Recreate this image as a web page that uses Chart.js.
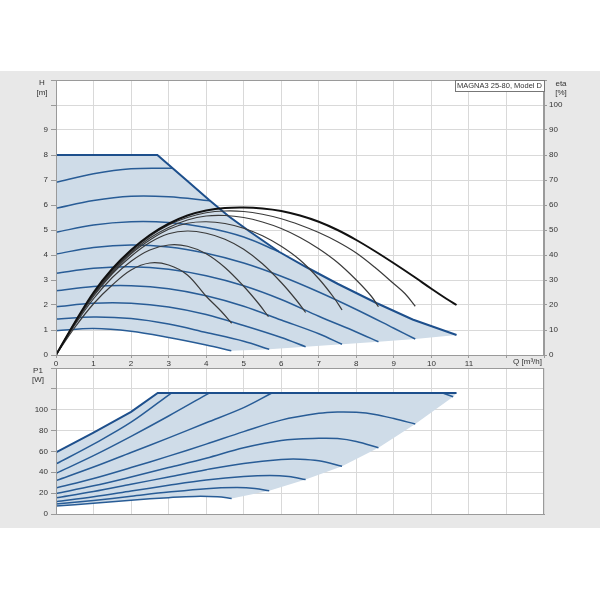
<!DOCTYPE html>
<html>
<head>
<meta charset="utf-8">
<script src="https://cdn.jsdelivr.net/npm/chart.js@4.4.0/dist/chart.umd.min.js"></script>
<style>
  html, body { margin: 0; padding: 0; background: #fff; }
  #band { position: absolute; left: 0; top: 71px; width: 600px; height: 457px; background: #e8e8e8; }
  #topChart { position: absolute; left: 0; top: 70px; }
  #bottomChart { position: absolute; left: 0; top: 358px; }
</style>
</head>
<body>
<div id="band"></div>
<canvas id="topChart" width="600" height="300"></canvas>
<canvas id="bottomChart" width="600" height="172"></canvas>
<script>
// Q [m3/h], H [m] speed curves (lowest to highest) and max curve
let hMax = [[0,8],[2.7,8],[3.5,6.96],[4.08,6.2],[4.6,5.55],[5.15,4.95],[5.94,4.13],[6.65,3.53],[7.5,2.85],[8.55,2.07],[9.5,1.42],[10.67,0.8]];
let h1 = [[0,0.97],[1,1.06],[2,0.95],[3,0.7],[4,0.4],[4.67,0.17]];
let h2 = [[0,1.44],[1,1.52],[2,1.46],[3,1.24],[4,0.9],[5,0.55],[5.68,0.23]];
let h3 = [[0,1.93],[1,2.07],[2,2.07],[3,1.92],[4,1.62],[5,1.18],[6,0.7],[6.65,0.33]];
let h4 = [[0,2.57],[1,2.74],[2,2.77],[3,2.65],[4,2.37],[5,1.95],[6,1.4],[7,0.85],[7.62,0.43]];
let h5 = [[0,3.27],[1,3.47],[2,3.53],[3,3.43],[4,3.17],[5,2.77],[6,2.22],[7,1.55],[8,0.92],[8.59,0.53]];
let h6 = [[0,4.04],[1,4.3],[2,4.4],[3,4.32],[4,4.07],[5,3.68],[6,3.15],[7,2.52],[8,1.82],[9,1.07],[9.57,0.64]];
let h7 = [[0,4.91],[1,5.2],[2,5.33],[3,5.3],[4,5.1],[5,4.72],[5.94,4.13]];
let h8 = [[0,5.87],[1,6.18],[2,6.35],[3,6.33],[4.1,6.17]];
let h9 = [[0,6.91],[1,7.25],[2,7.45],[3.1,7.47]];

// eta [%]
let eta1 = [[0,0],[0.5,11],[1,20.5],[1.5,28],[2,34],[2.5,36.8],[3,36],[3.5,32],[4,23.5],[4.4,17.5],[4.68,12.7]];
let eta2 = [[0,0],[0.5,12],[1,22.5],[1.5,31],[2,37.5],[2.5,42],[3,44],[3.5,43.5],[4,40.5],[4.5,35],[5,27.5],[5.4,20.5],[5.66,15.3]];
let eta3 = [[0,0],[0.5,12.5],[1,23.5],[1.5,32.5],[2,39.5],[2.5,45],[3,48.5],[3.5,49.6],[4,48.7],[4.5,46.3],[5,42.3],[5.5,36.5],[6,29],[6.4,22],[6.65,17]];
let eta4 = [[0,0],[0.5,12.5],[1,24],[1.5,33],[2,40.5],[2.5,46],[3,50.3],[3.5,52.7],[4,53.3],[4.5,52.6],[5,50.7],[5.5,47.7],[6,43.5],[6.5,38],[7,30.5],[7.4,23],[7.62,18]];
let eta5 = [[0,0],[0.5,12.5],[1,24],[1.5,33.5],[2,41],[2.5,46.8],[3,51],[3.5,54],[4,55.6],[4.5,55.8],[5,55],[5.5,53.2],[6,50.6],[6.5,47],[7,42.5],[7.5,37],[8,30],[8.4,23.5],[8.59,19.3]];
let eta6 = [[0,0],[0.5,13],[1,24.5],[1.5,34],[2,41.5],[2.5,47.5],[3,52],[3.5,55],[4,56.9],[4.5,57.6],[5,57.4],[5.5,56.3],[6,54.5],[6.5,52],[7,49],[7.5,45.3],[8,40.8],[8.5,35],[9,28.5],[9.3,24.5],[9.57,19.5]];
let eta7 = [[0,0],[0.5,13],[1,25],[1.5,34.5],[2,42],[2.5,48],[3,52.5],[3.5,55.8],[4,57.8],[4.5,58.8],[5,59],[5.5,58.6],[6,57.6],[6.5,55.8],[7,53.3],[7.5,50],[8,46],[8.5,41.5],[9,36.7],[9.5,31.7],[10,26.5],[10.4,22.5],[10.67,20]];

// P1 [W]
let pMax = [[0,59],[1,78],[2,98],[2.71,116],[10.67,116]];
let p1 = [[0,7.6],[1,10.3],[2,13.3],[3,15.7],[3.7,16.9],[4.3,16.5],[4.68,14.9]];
let p2 = [[0,9.5],[1,13],[2,17],[3,21],[4,24.3],[4.8,25.3],[5.3,24.5],[5.68,22.2]];
let p3 = [[0,11.7],[1,16.5],[2,22],[3,27.5],[4,32.5],[5,36],[5.7,37],[6.2,36],[6.65,33]];
let p4 = [[0,15.6],[1,21.5],[2,28.5],[3,35.5],[4,42.5],[5,48.5],[6,52.3],[6.5,52.6],[7,51],[7.62,45.7]];
let p5 = [[0,19.7],[1,27],[2,35.5],[3,44.5],[4,53.5],[5,63.5],[6,70.5],[7,72.6],[7.5,72.3],[8,69.5],[8.59,63.5]];
let p6 = [[0,25],[1,34],[2,44.5],[3,55.5],[4,67],[5,79],[6,90],[7,96.5],[7.5,97.8],[8,97.5],[8.5,95.5],[9,91.5],[9.57,86.3]];
let p7 = [[0,32],[1,45],[2,59],[3,73],[4,87.5],[5,102],[5.75,116]];
let p8 = [[0,39],[1,56],[2,74.5],[3,94],[4.08,116]];
let p9 = [[0,48],[1,67],[2,88],[3.07,116]];
let pHook = [[10.3,116],[10.58,112.5]];

let xTicksMax = 11, hTicksMax = 9, etaTicksMax = 100, pTicksMax = 100;

Chart.defaults.font.family = "'Liberation Sans', Arial, sans-serif";
Chart.defaults.font.size = 8;
Chart.defaults.color = '#333';

const BLUE = '#285c96';
const NAVY = '#1d4f8c';
const FILL = '#cfdce8';
const GRID = '#d9d9d9';
const EDGE = '#9a9a9a';

function xy(arr) { return arr.map(p => ({ x: p[0], y: p[1] })); }
function last(arr) { return arr[arr.length - 1]; }

function curve(arr, color, width, axis, order) {
    return {
        data: xy(arr), borderColor: color, borderWidth: width, pointRadius: 0,
        fill: false, yAxisID: axis, order: order, tension: 0.35
    };
}

function area(arr, axis) {
    return {
        data: xy(arr), borderColor: 'rgba(0,0,0,0)', borderWidth: 0, pointRadius: 0,
        backgroundColor: FILL, fill: 'shape', tension: 0, yAxisID: axis, order: 40
    };
}

// white plot area + frame
const frame = {
    id: 'frame',
    beforeDraw(chart) {
        const a = chart.chartArea, ctx = chart.ctx;
        ctx.save();
        ctx.fillStyle = '#fff';
        ctx.fillRect(a.left, a.top, a.right - a.left, a.bottom - a.top);
        ctx.restore();
    },
    afterDraw(chart) {
        const a = chart.chartArea, ctx = chart.ctx;
        ctx.save();
        ctx.strokeStyle = EDGE;
        ctx.lineWidth = 1;
        ctx.strokeRect(a.left + 0.5, a.top + 0.5, a.right - a.left - 1, a.bottom - a.top);
        ctx.restore();
    }
};

function texts(items) {
    return {
        id: 'texts',
        afterDraw(chart) {
            const ctx = chart.ctx;
            ctx.save();
            ctx.fillStyle = '#333';
            ctx.textBaseline = 'middle';
            items.forEach(t => {
                ctx.font = (t.size || 8) + "px 'Liberation Sans', Arial, sans-serif";
                if (t.box) {
                    ctx.fillStyle = '#fff';
                    ctx.fillRect(t.box[0], t.box[1], t.box[2], t.box[3]);
                    ctx.strokeStyle = '#777';
                    ctx.strokeRect(t.box[0] + 0.5, t.box[1] + 0.5, t.box[2] - 1, t.box[3] - 1);
                    ctx.fillStyle = '#333';
                }
                ctx.textAlign = t.align || 'center';
                ctx.fillText(t.text, t.x, t.y);
            });
            ctx.restore();
        }
    };
}

// top chart: H and eta vs Q
let topPoly = hMax.concat([h6, h5, h4, h3, h2].map(last), h1.slice().reverse());

let topChart = new Chart(document.getElementById('topChart').getContext('2d'), {
    type: 'line',
    data: {
        datasets: [
            curve(eta7, '#111', 2, 'y2', 1),
            curve(eta6, '#3a3a3a', 1.2, 'y2', 2),
            curve(eta5, '#3a3a3a', 1.2, 'y2', 3),
            curve(eta4, '#3a3a3a', 1.2, 'y2', 4),
            curve(eta3, '#3a3a3a', 1.2, 'y2', 5),
            curve(eta2, '#3a3a3a', 1.2, 'y2', 6),
            curve(eta1, '#3a3a3a', 1.2, 'y2', 7),
            curve(h1, BLUE, 1.5, 'y', 20),
            curve(h2, BLUE, 1.5, 'y', 20),
            curve(h3, BLUE, 1.5, 'y', 20),
            curve(h4, BLUE, 1.5, 'y', 20),
            curve(h5, BLUE, 1.5, 'y', 20),
            curve(h6, BLUE, 1.5, 'y', 20),
            curve(h7, BLUE, 1.5, 'y', 20),
            curve(h8, BLUE, 1.5, 'y', 20),
            curve(h9, BLUE, 1.5, 'y', 20),
            Object.assign(curve(hMax, NAVY, 2, 'y', 15), { tension: 0 }),
            area(topPoly, 'y')
        ]
    },
    options: {
        responsive: false,
        animation: false,
        events: [],
        layout: { padding: { top: 10 } },
        plugins: { legend: { display: false }, tooltip: { enabled: false } },
        scales: {
            x: {
                type: 'linear', min: 0, max: 13,
                ticks: { stepSize: 1, padding: 1, maxRotation: 0, autoSkip: false,
                         callback: v => v <= xTicksMax ? v : '' },
                grid: { color: GRID, tickLength: 3, tickColor: EDGE },
                border: { color: EDGE },
                afterFit: s => { s.height = 15; }
            },
            y: {
                position: 'left', min: 0, max: 11,
                ticks: { stepSize: 1, padding: 3, callback: v => v <= hTicksMax ? v : '' },
                grid: { color: GRID, tickLength: 5, tickColor: EDGE },
                border: { color: EDGE },
                afterFit: s => { s.width = 56; }
            },
            y2: {
                position: 'right', min: 0, max: 110,
                ticks: { stepSize: 10, padding: 2, callback: v => v <= etaTicksMax ? v : '' },
                grid: { drawOnChartArea: false, tickLength: 3, tickColor: EDGE },
                border: { color: EDGE },
                afterFit: s => { s.width = 56; }
            }
        }
    },
    plugins: [frame, texts([
        { text: 'H', x: 42, y: 13 },
        { text: '[m]', x: 42, y: 23 },
        { text: 'eta', x: 561, y: 14 },
        { text: '[%]', x: 561, y: 23 },
        { text: 'Q [m\u00b3/h]', x: 542, y: 292, align: 'right' },
        { text: 'MAGNA3 25-80, Model D', x: 457, y: 16, align: 'left', size: 7.5, box: [455, 10, 90, 12] }
    ])]
});

// bottom chart: P1 vs Q
let bottomPoly = pMax.concat([pHook[1]], [p6, p5, p4, p3, p2].map(last), p1.slice().reverse());

let bottomChart = new Chart(document.getElementById('bottomChart').getContext('2d'), {
    type: 'line',
    data: {
        datasets: [
            curve(p1, BLUE, 1.5, 'y', 20),
            curve(p2, BLUE, 1.5, 'y', 20),
            curve(p3, BLUE, 1.5, 'y', 20),
            curve(p4, BLUE, 1.5, 'y', 20),
            curve(p5, BLUE, 1.5, 'y', 20),
            curve(p6, BLUE, 1.5, 'y', 20),
            curve(p7, BLUE, 1.5, 'y', 20),
            curve(p8, BLUE, 1.5, 'y', 20),
            curve(p9, BLUE, 1.5, 'y', 20),
            Object.assign(curve(pHook, BLUE, 1.5, 'y', 20), { tension: 0 }),
            Object.assign(curve(pMax, NAVY, 2, 'y', 15), { tension: 0 }),
            area(bottomPoly, 'y')
        ]
    },
    options: {
        responsive: false,
        animation: false,
        events: [],
        layout: { padding: { top: 10, right: 56, bottom: 16 } },
        plugins: { legend: { display: false }, tooltip: { enabled: false } },
        scales: {
            x: {
                type: 'linear', min: 0, max: 13,
                ticks: { display: false, stepSize: 1 },
                grid: { color: GRID, drawTicks: false },
                border: { color: EDGE },
                afterFit: s => { s.height = 0; }
            },
            y: {
                position: 'left', min: 0, max: 140,
                ticks: { stepSize: 20, padding: 3, callback: v => v <= pTicksMax ? v : '' },
                grid: { color: GRID, tickLength: 5, tickColor: EDGE },
                border: { color: EDGE },
                afterFit: s => { s.width = 56; }
            }
        }
    },
    plugins: [frame, texts([
        { text: 'P1', x: 38, y: 13 },
        { text: '[W]', x: 38, y: 22 }
    ])]
});
</script>
</body>
</html>
